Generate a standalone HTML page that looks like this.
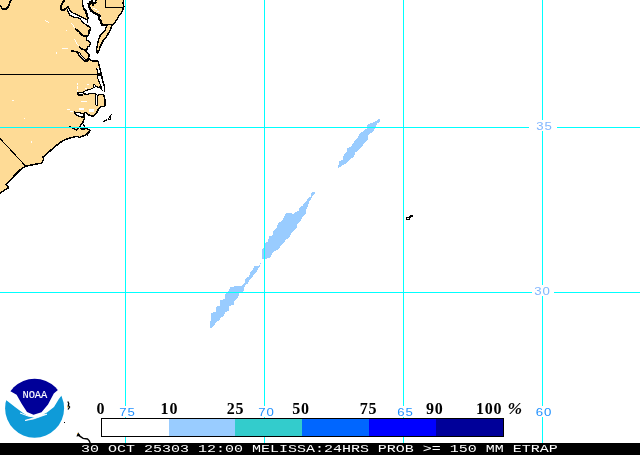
<!DOCTYPE html>
<html><head><meta charset="utf-8"><title>ETRAP</title>
<style>
html,body{margin:0;padding:0;background:#fff;}
body{width:640px;height:455px;overflow:hidden;position:relative;font-family:"Liberation Sans",sans-serif;}
svg{position:absolute;left:0;top:0;display:block;}
.g{stroke:#00ffff;stroke-width:1;shape-rendering:crispEdges;}
.c{fill:none;stroke:#000;stroke-width:1.5;stroke-linejoin:round;stroke-linecap:round;}
.lb{font-family:"Liberation Sans",sans-serif;font-size:11px;letter-spacing:0.8px;}
.lg{font-family:"Liberation Serif",serif;font-weight:bold;font-size:16px;letter-spacing:0.8px;fill:#000;}
#bar{position:absolute;left:0;top:443px;width:640px;height:12px;background:#000;}
#bt{position:absolute;left:81px;top:442px;height:14px;line-height:14px;white-space:pre;color:#fff;font-family:"Liberation Mono",monospace;font-size:10.6px;transform-origin:0 0;transform:scaleX(1.4151);}
</style></head><body>
<svg width="640" height="455" viewBox="0 0 640 455">
<rect width="640" height="455" fill="#fff"/>
<!-- land -->
<g id="land" shape-rendering="crispEdges">
<polygon points="0,0 82.5,0 82.7,4.7 83.6,8.4 85.3,10.4 86.6,13.6 87.3,17.2 88.3,18.3 87.4,19.5 87.4,22.3 86.3,25.1 88.6,26.3 90.3,27.4 90.6,29.4 89.1,30.8 88.6,35.1 86.4,36.7 86.6,39.9 89,41.4 90.6,43.4 89.4,45.8 87.4,47.4 87,49.8 85.6,50.9 89,54.9 88.6,57.7 89.8,59.25 91.8,60.8 98,61.2 99.7,68 101.4,74.7 102.6,80.6 104.3,86.4 104.5,91.5 104.6,93 103.8,95.6 104.5,97.8 104.9,100 104.9,106 100.7,106.9 98.4,109.2 96.6,112.9 94.3,115.7 91.5,116.1 88.75,114.8 86.4,112.9 84.6,112.5 83.7,113.8 84.6,118.45 83.7,119.8 82.75,122.6 80.9,124.4 79.5,127.2 81,128.8 84.1,129.3 85.5,127.7 88.75,129.5 90.1,130.4 88.75,131.8 86.4,134.1 85.1,135.5 81.8,136.4 79.5,137.4 76.8,136.4 74,136.9 70.8,137.8 66.6,139.2 62,141.2 56.25,145.6 51,150 46.2,154.6 43.1,156.9 43.8,159.2 41.5,163.1 33.8,164.6 25.4,166.2 20,170 13.8,176.2 9.2,181.5 6.2,184.6 8.5,187.7 4.6,190 0,193.1" fill="#fedb96"/>
<polygon points="96,0 95.5,3 91,3.3 89,5 89.2,7.3 90.7,10.3 93.8,12.7 96.6,14.2 99.75,15.8 99,19 100.9,21.4 101.7,24.5 104.1,25.3 107.3,24.9 105.7,27.7 105.3,30 103.2,32 100.85,34.5 99.3,37.5 98.1,41.4 97.3,45.4 96.5,49 97.3,53.5 98.9,50.9 100.1,47 101.6,43.8 103.2,40.7 105.6,38.3 107.4,35.1 109.6,31.6 111.2,27.3 112.8,24.5 114.8,22.5 116.8,19.8 118.3,16.6 121.1,13.4 122.7,10.3 123.9,6.3 123.1,3.2 123.5,0" fill="#fedb96"/>
<polygon points="77.2,93.7 77.6,93 81.7,92.6 84,91.8 85.8,90.3 89.6,89.6 92.2,88.5 94.1,87.3 93.3,85.1 94.4,84.4 95.9,86.2 97.8,87.3 100,87 101.5,89.2 102.7,90 104.5,91.5 106.5,91.3 106.5,94.1 102.7,94.1 99.7,94.1 98.2,95.6 97,95.6 95.9,94.1 94.4,93.3 91.4,93.6 88.1,94.1 85.5,94.1 83.2,93.7 82.5,95 78.4,95 77.2,94.1" fill="#fff"/>
<polyline class="c" style="stroke-width:1.2" points="77.2,93.7 77.6,93 81.7,92.6 84,91.8 85.8,90.3 89.6,89.6 92.2,88.5 94.1,87.3 93.3,85.1 94.4,84.4 95.9,86.2 97.8,87.3 100,87 101.5,89.2 102.7,90"/>
<polyline class="c" style="stroke-width:1.2" points="77.2,94.1 78.4,95 82.5,95 83.2,93.7 85.5,94.1 88.1,94.1 91.4,93.6 94.4,93.3 95.9,94.1 97,95.6 98.2,95.6 99.7,94.1 102.7,94.1 103.8,95.6"/>
<polygon points="99.4,67 99.7,68 101.4,74.7 102.6,80.6 104.3,86.4 104.5,91 101.8,89.7 101,86.4 99.3,82.2 97.6,78 97.2,74.7 97.6,71.4 96.8,68.9" fill="#fff"/>
<polyline class="c" style="stroke-width:1.2" points="96.8,68.9 97.6,71.4 97.2,74.7 97.6,78 99.3,82.2 101,86.4 101.8,89.7"/>
<polygon points="96.5,73 100.8,73 101.5,76.4 98,76.4" fill="#000"/>
<polygon points="95.9,95 97.8,95 97.8,105 95.9,105" fill="#fff"/>
<path class="c" style="stroke-width:1" d="M95.9,95.5 V105 H97.8 V95.5"/>
<polygon points="85,113.5 83.7,113.8 80.45,112.9 76.8,112.5 74,112 74.9,113.8 77.2,115.7 80,116.6 82.75,117.1 84.6,118.45 86,116.5" fill="#fff"/>
<polygon points="68.2,6.6 69.2,9.2 70.8,11.5 73.5,13.3 76,14.4 78.3,15.4 80.6,16.6 82.9,17.7 85.1,18.9 86.6,19.7 87.4,19.5 87.4,22.3 86.3,25.1 84,23.1 81.7,20.9 80.3,19 78.3,18 76,17.5 72.5,16.8 69.8,15.3 68.2,12.5 67.5,9.2" fill="#fff"/>
<polyline class="c" style="stroke-width:1.3" points="83.7,113.8 80.45,112.9 76.8,112.5 74,112"/>
<polyline class="c" style="stroke-width:1.3" points="74,112 74.9,113.8 77.2,115.7 80,116.6 82.75,117.1 84.6,118.45"/>
<polygon points="77.7,128.8 79.6,127.4 81,128.8 78.5,129.4" fill="#fff"/>
<polyline class="c" style="stroke-width:1.4" points="69.8,126.75 72.1,127.7 74.45,129 76.3,130 77.7,128.6 79.5,127.2"/>
<path class="c" style="stroke-width:1" d="M83.7,124.9 L85.5,127.7 M86.2,134.8 L89.3,131.2 M87.2,135.2 L90,132"/>
<polyline class="c" points="82.5,0 82.7,4.7 83.6,8.4 85.3,10.4 86.6,13.6 87.3,17.2 88.3,18.3 87.4,19.5 87.4,22.3"/>
<polyline class="c" points="86.3,25.1 88.6,26.3 90.3,27.4 90.6,29.4 89.1,30.8 88.6,35.1 86.4,36.7 86.6,39.9 89,41.4 90.6,43.4 89.4,45.8 87.4,47.4 87,49.8 85.6,50.9 89,54.9 88.6,57.7 89.8,59.25 91.8,60.8 98,61.2 99.7,68 101.4,74.7 102.6,80.6 104.3,86.4 104.5,91.5"/>
<polyline class="c" points="103.8,95.6 104.5,97.8 104.9,100 104.9,106 100.7,106.9 98.4,109.2 96.6,112.9 94.3,115.7 91.5,116.1 88.75,114.8 86.4,112.9 84.6,112.5 83.7,113.8 84.6,118.45 83.7,119.8 82.75,122.6 80.9,124.4 79.5,127.2 81,128.8 84.1,129.3 85.5,127.7 88.75,129.5 90.1,130.4 88.75,131.8 86.4,134.1 85.1,135.5 81.8,136.4 79.5,137.4 76.8,136.4 74,136.9 70.8,137.8 66.6,139.2 62,141.2 56.25,145.6 51,150 46.2,154.6 43.1,156.9 43.8,159.2 41.5,163.1 33.8,164.6 25.4,166.2 20,170 13.8,176.2 9.2,181.5 6.2,184.6 8.5,187.7 4.6,190 0,193.1"/>
<polyline class="c" points="96,0 95.5,3 91,3.3 89,5 89.2,7.3 90.7,10.3 93.8,12.7 96.6,14.2 99.75,15.8 99,19 100.9,21.4 101.7,24.5 104.1,25.3 107.3,24.9 105.7,27.7 105.3,30 103.2,32 100.85,34.5 99.3,37.5 98.1,41.4 97.3,45.4 96.5,49 97.3,53.5 98.9,50.9 100.1,47 101.6,43.8 103.2,40.7 105.6,38.3 107.4,35.1 109.6,31.6 111.2,27.3 112.8,24.5 114.8,22.5 116.8,19.8 118.3,16.6 121.1,13.4 122.7,10.3 123.9,6.3 123.1,3.2 123.5,0"/>
<polyline class="c" style="stroke-width:2.2" points="89,5 89.2,7.3 90.7,10.3 93.8,12.7 96.6,14.2 99.75,15.8 99,19 100.9,21.4 101.7,24.5"/>
<path class="c" style="stroke-width:1.8" d="M88.3,3.6 L91,2.6 L93.5,3.6 L96,2.4 M92,1 L93.2,5.2 M90,2 L90.5,4.5"/>
<g fill="#fff"><rect x="93" y="8" width="2" height="1"/><rect x="95" y="9" width="2" height="1"/><rect x="97" y="11" width="2" height="1"/><rect x="100" y="17" width="1" height="2"/><rect x="91" y="7" width="1" height="1"/></g>
<polyline class="c" style="stroke-width:2.2" points="83.6,8.4 85.3,10.4 86.6,13.6"/>
<!-- state borders -->
<path class="c" style="stroke-width:1" d="M0,74.5 H101"/>
<path class="c" style="stroke-width:1" d="M0,138.5 L25.4,165.9"/>
<path class="c" style="stroke-width:1" d="M105.5,0 V7.5 H122.9"/>
<path class="c" d="M0,5.6 L2.5,8.75 L5.6,9.4 L8.75,6.25 L10,1.9 L11.9,0"/>
<!-- rivers -->
<path class="c" style="stroke-width:1.9" d="M64.6,0 L62.6,2.6 L60.9,6.3 L60.7,9.2 L62.3,10.4 L65.2,9.2 L67.5,7.25 L68.2,6.6"/>
<polyline class="c" style="stroke-width:1.3" points="68.2,6.6 69.2,9.2 70.8,11.5 73.5,13.3 76,14.4 78.3,15.4 80.6,16.6 82.9,17.7 85.1,18.9 86.6,19.7 87.4,18.8"/>
<polyline class="c" style="stroke-width:1.3" points="67.5,9.2 68.2,12.5 69.8,15.3 72.5,16.8 76,17.5 78.3,18 80.3,19 81.7,20.9 84,23.1 86.3,25.1"/>
<path class="c" style="stroke-width:1.8" d="M75.6,29.4 L78.75,31.25 L81.25,34.4 L84.4,36.25 L87.5,36.4"/>
<path class="c" style="stroke-width:1.6" d="M79.4,46.9 L82,48.9 L85.4,50.5 L87.2,49.4"/>
<path class="c" style="stroke-width:1.4" d="M71.2,50.9 L74.75,51.3 L78.7,52.5"/>
<path d="M78.2,52.3 L80,55.3 L82.7,58.3 L85.2,60.5 L89.3,59.6" fill="none" stroke="#000" stroke-width="3.2" stroke-linejoin="round"/>
<path d="M78.8,53 L80.4,55.4 L83,58.2 L85.4,60" fill="none" stroke="#fff" stroke-width="0.9"/>
<path class="c" style="stroke-width:1" d="M107.3,24.9 L109.3,24.1 L112.8,24.1"/>
<path d="M45,20.8 L46.5,21.4 L48.6,22.8 M71.5,23.2 L73,25.2 L74.8,28.4 M73.8,38.8 L76,41.5 L79.6,45.8 M62,48.2 H68 M12,100 H13.5 M56,52 L57,53.5 M66,30 L67,31 M24,118 L25,119 M31,141 L32,143" fill="none" stroke="#fff" stroke-width="0.9"/>
<!-- Hatteras -->
<path class="c" style="stroke-width:1.2" d="M103.9,121.6 L105.5,120.4 L107.5,119.5 L109,118 L110.5,116 L111.6,114.2"/>
<polygon points="107.5,119.8 110.9,119.8 110.6,116.4" fill="#000"/>
<rect x="109" y="118" width="1" height="1" fill="#fff"/>
<!-- lakes -->
<g fill="#fff">
<rect x="88.5" y="108.8" width="5.5" height="3"/><rect x="79" y="107.5" width="5" height="2"/><rect x="83" y="100.5" width="3.5" height="1.5"/>
<rect x="77" y="83" width="1" height="2"/><rect x="76.6" y="86" width="1" height="3"/><rect x="77" y="90" width="1" height="2"/>
<rect x="67" y="109" width="3" height="1"/><rect x="70" y="110.5" width="3" height="1"/>
<rect x="81" y="101" width="1.5" height="1"/><rect x="87" y="84" width="2" height="1"/><rect x="85" y="88" width="2" height="1"/>
</g>
</g>
<!-- blobs -->
<g fill="#99ccff" shape-rendering="crispEdges">
<polygon points="378.9,118.1 376.3,121.1 372.7,122.5 367.5,124.6 367.1,128.1 363.1,131.3 359.6,133.4 357.8,137.8 355.2,140.4 353.4,143.1 350.8,146.6 347.3,148.4 347.3,151.9 343.7,154.5 342.9,159.8 339.3,161.5 337.6,168.2 341.1,166.8 342.9,165.1 346.4,163.3 348.1,161.5 350.8,158.9 354.3,156.3 355.2,152.7 358.7,150.1 361.3,147.5 363.1,144.8 367.5,140.4 368.4,135.2 372.7,131.6 375.4,128.1 377.1,123.7 379.8,122.0 380.1,120.2"/>
<polygon points="314.2,191.1 311.5,193.2 310.7,196.7 308.0,198.5 305.4,202.0 302.7,205.5 300.1,207.3 298.4,210.8 294.8,212.5 293.1,214.3 289.6,212.5 286.0,213.4 284.3,216.9 281.6,221.3 278.1,223.1 276.4,228.4 273.7,230.1 272.9,235.4 269.3,236.3 267.6,241.5 264.9,243.3 264.1,247.7 262.3,249.5 262.0,258.8 264.9,259.5 267.6,258.2 270.2,257.4 272.0,253.8 274.6,251.2 278.1,249.5 280.8,245.9 283.4,243.3 286.0,239.8 289.6,237.1 291.3,233.6 294.0,231.0 296.6,227.5 297.5,224.0 300.1,221.3 302.7,216.9 305.4,214.3 306.3,209.0 308.0,206.4 308.9,202.0 310.7,199.3 312.4,195.8 315.1,193.2"/>
<polygon points="260.7,262.3 258.9,265.8 254.5,266.2 252.7,270.2 250.1,272.0 249.2,276.4 245.7,278.1 244.8,282.5 241.3,286.0 237.8,286.0 230.8,286.9 229.0,290.4 225.5,294.0 224.6,299.2 220.2,300.1 220.2,305.4 216.7,306.3 215.8,311.5 211.4,313.3 211.4,319.5 210.2,322.1 210.2,328.2 211.8,328.2 214.6,324.7 215.8,322.1 219.5,320.3 220.4,317.7 224.1,315.9 225.0,312.4 228.7,310.7 229.5,306.3 233.9,304.5 234.8,300.1 238.3,297.5 239.0,293.1 244.0,291.3 244.7,285.2 248.2,283.4 249.1,279.9 252.4,277.3 253.5,274.6 256.6,272.0 257.7,269.3 260.1,266.7"/>
</g>
<!-- Bermuda -->
<g fill="#000" shape-rendering="crispEdges">
<rect x="406" y="217" width="4" height="3"/><rect x="407" y="218" width="2" height="1" fill="#fff"/>
<rect x="409" y="216" width="2" height="2"/><rect x="410" y="215" width="3" height="2"/>
</g>
<!-- grid -->
<g class="g">
<path d="M0,127.5 H529 M557,127.5 H640 M0,292.5 H532 M554,292.5 H640"/>
<path d="M125.5,0 V406 M264.5,0 V406 M403.5,0 V406 M542.5,0 V120 M542.5,131 V285 M542.5,296 V406 M125.5,417 V443 M264.5,417 V443 M403.5,417 V443 M542.5,417 V443"/>
</g>
<g class="lb" fill="#80b6ff">
<text transform="translate(536.3,130) scale(1.2,1)">35</text>
<text transform="translate(534.3,295) scale(1.2,1)">30</text>
</g>
<g class="lb" fill="#1e90ff">
<text transform="translate(119.3,416) scale(1.2,1)">75</text>
<text transform="translate(258.3,416) scale(1.2,1)">70</text>
<text transform="translate(397.3,416) scale(1.2,1)">65</text>
<text transform="translate(535.8,416) scale(1.2,1)">60</text>
</g>
<!-- legend -->
<g shape-rendering="crispEdges">
<rect x="101" y="418" width="403" height="19" fill="#000"/>
<rect x="102" y="419" width="67" height="17" fill="#fff"/>
<rect x="169" y="419" width="66" height="17" fill="#99ccff"/>
<rect x="235" y="419" width="67" height="17" fill="#33cccc"/>
<rect x="302" y="419" width="67" height="17" fill="#0066ff"/>
<rect x="369" y="419" width="67" height="17" fill="#0000ff"/>
<rect x="436" y="419" width="67" height="17" fill="#000099"/>
</g>
<g class="lg">
<text x="96.4" y="414">0</text>
<text x="160.6" y="414">10</text>
<text x="226.8" y="414">25</text>
<text x="292.3" y="414">50</text>
<text x="359.8" y="414">75</text>
<text x="426" y="414">90</text>
<text x="476" y="414">100</text>
<text x="507.6" y="414" font-style="italic" font-size="17.5px">%</text>
</g>
<!-- NOAA logo -->
<g id="noaa">
<clipPath id="cc"><circle cx="34.6" cy="408.2" r="29.5"/></clipPath>
<g clip-path="url(#cc)">
<path d="M10,391 L0,370 H70 L58.5,389.4 L53.8,393.6 L48,404.5 L41.5,412.3 L33.5,414.8 L27,412 L21.8,404 L16.6,394.8 Z" fill="#000099"/>
<path d="M0,396 L6,400 L15,407 L23,413 L28.5,416.3 L35,417.2 L41,415.6 L47,412.5 L54,407 L59,398.7 L62,395 L70,395 V445 H0 Z" fill="#0f9bd8"/>
<path d="M25,420.5 L33,418 L41.5,414.8 L47,414.2 L41.5,416.2 L33.5,419 Z" fill="#fff" stroke="#fff" stroke-width="0.8"/>
<path d="M20,413 L28,416 L35.5,417.3" fill="none" stroke="#fff" stroke-width="1"/>
</g>
<text x="22.4" y="398" font-family="Liberation Mono, monospace" font-size="10.4px" fill="#fff" stroke="#fff" stroke-width="0.12">NOAA</text>
</g>
<!-- small marks -->
<path d="M67.8,401.5 L68.8,403.5 L68.3,405.5 L69.6,407 L68,409.5" fill="none" stroke="#000" stroke-width="1.3"/>
<rect x="67" y="406" width="1" height="1.5" fill="#e8b040"/>
<rect x="64" y="422" width="1" height="1" fill="#000"/>
<path d="M78.5,434 L79.8,436.2 L83.1,438.4 L87.5,439 L89.1,440.6 L90.2,443" fill="none" stroke="#000" stroke-width="1.4"/>
<path d="M78.1,432.2 L76.4,436.6 L80.4,436 Z" fill="#000"/>
<rect x="77" y="433" width="1" height="1" fill="#e8b040"/>
</svg>
<div id="bar"></div>
<div id="bt">30 OCT 25303 12:00 MELISSA:24HRS PROB &gt;= 150 MM ETRAP</div>
</body></html>
